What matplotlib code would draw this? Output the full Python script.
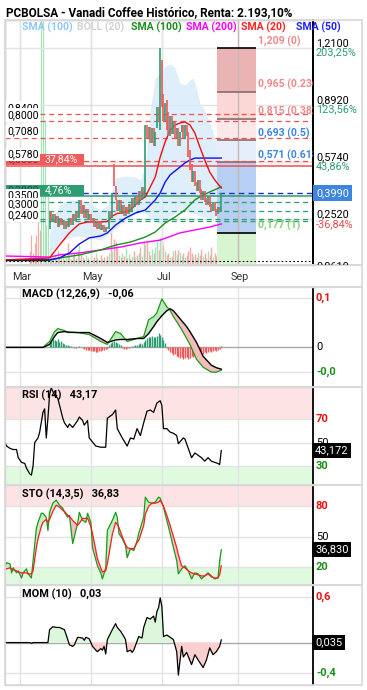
import numpy as np
import matplotlib
matplotlib.use("Agg")
import matplotlib.pyplot as plt
from matplotlib.patches import Rectangle
from matplotlib.transforms import Bbox, TransformedBbox, blended_transform_factory as blend

plt.rcParams['font.family'] = ['Roboto', 'DejaVu Sans']

# ---------------- data ----------------
title = "PCBOLSA - Vanadi Coffee Histórico, Renta: 2.193,10%"
months = ['Mar', 'May', 'Jul', 'Sep']
month_bar = [9, 52, 95, 141]

candle_start = 27
c_open = [0.20, 0.30, 0.24, 0.28, 0.23, 0.27, 0.21, 0.26, 0.22, 0.25, 0.20, 0.24, 0.21,
          0.26, 0.22, 0.28, 0.24, 0.30, 0.26,
          0.36, 0.28, 0.33, 0.26, 0.31, 0.25,
          0.28, 0.24, 0.26, 0.21, 0.24, 0.20, 0.23, 0.19, 0.22, 0.18, 0.21,
          0.20, 0.30, 0.26, 0.56, 0.44, 0.36,
          0.30, 0.36, 0.28, 0.33, 0.27, 0.32, 0.28,
          0.34, 0.30, 0.37, 0.32, 0.38, 0.33, 0.41, 0.36, 0.43,
          0.38, 0.78,
          0.70, 0.77, 0.68, 0.76, 0.66,
          0.76, 0.88, 0.75, 1.14, 0.95, 0.80, 0.92, 0.85, 0.72, 0.83, 0.73, 0.80, 0.70, 0.76,
          0.66, 0.74, 0.78, 0.70, 0.78,
          0.74, 0.64, 0.56, 0.46, 0.52, 0.46, 0.41, 0.47, 0.42, 0.36, 0.41, 0.37, 0.33, 0.38,
          0.34, 0.30, 0.35, 0.31, 0.28, 0.32, 0.29]
c_close = [0.30, 0.24, 0.28, 0.23, 0.27, 0.21, 0.26, 0.22, 0.25, 0.20, 0.24, 0.21, 0.26,
           0.22, 0.28, 0.24, 0.30, 0.26, 0.36,
           0.28, 0.33, 0.26, 0.31, 0.25, 0.28,
           0.24, 0.26, 0.21, 0.24, 0.20, 0.23, 0.19, 0.22, 0.18, 0.21, 0.20,
           0.30, 0.26, 0.40, 0.44, 0.36, 0.30,
           0.36, 0.28, 0.33, 0.27, 0.32, 0.28, 0.34,
           0.30, 0.37, 0.32, 0.38, 0.33, 0.41, 0.36, 0.43, 0.38,
           0.78, 0.70,
           0.77, 0.68, 0.76, 0.66, 0.74,
           0.88, 0.80, 1.21, 0.88, 0.80, 0.90, 0.75, 0.72, 0.83, 0.73, 0.80, 0.70, 0.76, 0.66,
           0.74, 0.78, 0.70, 0.78, 0.72,
           0.60, 0.53, 0.46, 0.52, 0.44, 0.41, 0.47, 0.40, 0.36, 0.41, 0.35, 0.33, 0.38, 0.32,
           0.30, 0.35, 0.30, 0.27, 0.32, 0.29, 0.399]
early_price = 0.025

vol_early_start = 15
vol_early = [14, 30, 12, 22, 30, 60, 35, 260, 260, 145, 40, 78]
vol_early_up = [0, 0, 0, 0, 0, 0, 0, 1, 1, 1, 1, 1]
vol = [12, 18, 8, 10, 6, 14, 9, 7, 12, 5, 8, 22, 10, 6,
       9, 12, 7, 15, 20, 11, 8, 6, 10, 7, 5, 9, 6, 8, 12,
       7, 5, 10, 6, 8, 4, 9, 12, 33, 14, 26, 23, 18, 10, 8,
       12, 9, 17, 7, 11, 6, 9, 14, 8, 10, 12, 18, 9, 23, 20,
       23, 14, 10, 16, 12, 18, 25, 15, 28, 25, 20, 14, 10, 12, 8,
       9, 14, 15, 11, 15, 13, 9, 12, 8, 10, 14, 18, 12, 9, 11,
       8, 13, 10, 16, 9, 12, 7, 14, 10, 18, 8, 12, 9, 15, 11, 26]

sma20_x = [0, 27, 33, 39, 45, 50, 58, 62, 65, 68, 71, 76, 79, 82, 85, 88, 91, 94, 97, 100,
           103, 106, 109, 112, 115, 118, 121, 124, 127, 131]
sma20_y = [0.025, 0.036, 0.108, 0.176, 0.226, 0.237, 0.237, 0.240, 0.270, 0.285, 0.287, 0.304,
           0.332, 0.360, 0.377, 0.433, 0.488, 0.600, 0.684, 0.751, 0.779, 0.790, 0.796, 0.779,
           0.734, 0.656, 0.583, 0.516, 0.472, 0.427]
sma50_x = [0, 27, 33, 39, 45, 51, 58, 62, 67, 73, 79, 85, 88, 91, 94, 97, 100, 103, 106, 109,
           112, 115, 118, 131]
sma50_y = [0.025, 0.025, 0.036, 0.064, 0.114, 0.148, 0.159, 0.176, 0.220, 0.259, 0.287, 0.304,
           0.332, 0.360, 0.399, 0.460, 0.500, 0.522, 0.544, 0.567, 0.583, 0.594, 0.594, 0.594]
sma100_x = [0, 27, 33, 45, 58, 67, 76, 85, 91, 97, 103, 109, 115, 118, 124, 131]
sma100_y = [0.025, 0.025, 0.036, 0.053, 0.081, 0.108, 0.125, 0.153, 0.181, 0.231, 0.265, 0.304,
            0.360, 0.377, 0.405, 0.433]
sma200_x = [0, 27, 33, 45, 58, 70, 82, 94, 106, 118, 124, 131]
sma200_y = [0.047, 0.041, 0.053, 0.064, 0.081, 0.097, 0.120, 0.136, 0.176, 0.198, 0.209, 0.226]

boll_x = [27, 30, 33, 39, 45, 51, 58, 62, 67, 73, 79, 82, 85, 88, 91, 94, 97, 100, 103, 106,
          109, 112, 114, 116, 118, 121, 124, 127, 131]
boll_up = [0.164, 0.276, 0.332, 0.360, 0.360, 0.343, 0.304, 0.332, 0.483, 0.494, 0.488, 0.472,
           0.555, 0.863, 1.041, 1.069, 1.108, 1.120, 1.097, 1.013, 1.002, 1.030, 1.041, 0.985,
           0.902, 0.863, 0.790, 0.712, 0.611]
boll_lo = [0.036, 0.092, 0.125, 0.148, 0.159, 0.148, 0.136, 0.159, 0.203, 0.248, 0.282, 0.293,
           0.285, 0.259, 0.240, 0.226, 0.237, 0.270, 0.285, 0.304, 0.300, 0.293, 0.285, 0.278,
           0.270, 0.265, 0.259, 0.265, 0.276]

red_dash = [0.84, 0.80, 0.708, 0.578]
green_dash = [0.35, 0.30, 0.252, 0.24]
red_solid = 0.55
green_solid = 0.38
last_price = 0.399
low_dotted = 0.02

fib_levels = [1.209, 0.965, 0.815, 0.693, 0.571, 0.177]
fib_ratios = ['0', '0.236', '0.382', '0.5', '0.618', '1']
fib_x0, fib_x1 = 128.4, 152.0

right_vals = [(1.21, '1,2100', '203,25%', '#2e9d72'),
              (0.892, '0,8920', '123,56%', '#2e9d72'),
              (0.574, '0,5740', '43,86%', '#2e9d72'),
              (0.252, '0,2520', '-36,84%', '#f04848')]

macd_x = [0, 23, 27, 30, 32, 36, 38, 44, 51, 58, 62, 67, 70, 74, 80, 84, 87, 90, 92, 95, 98,
          100, 102, 104, 107, 110, 112, 116, 120, 125, 128, 131]
macd_sig = [0, 0, 0.006, 0.022, 0.030, 0.032, 0.031, 0.030, 0.030, 0.018, 0.010, 0.015, 0.016,
            0.016, 0.018, 0.018, 0.028, 0.042, 0.052, 0.064, 0.074, 0.078, 0.074, 0.066, 0.054,
            0.042, 0.032, 0.010, -0.018, -0.036, -0.041, -0.044]
macd_line = [0, 0, 0.012, 0.032, 0.038, 0.034, 0.030, 0.030, 0.026, 0.012, 0.006, 0.032, 0.028,
             0.012, 0.018, 0.022, 0.056, 0.062, 0.070, 0.098, 0.082, 0.075, 0.062, 0.052, 0.036,
             0.018, 0.006, -0.024, -0.040, -0.050, -0.050, -0.046]
macd_hist = [0.006, 0.012, 0.016, 0.014, 0.012, 0.016, 0.010, 0.012, 0.008, 0.006, 0.004, 0.004,
             0.002, 0.002, 0.0, -0.002, -0.002, 0.0, 0.002, 0.0, -0.002, -0.004, -0.006, -0.006,
             -0.006, -0.008, -0.008, -0.008, -0.010, -0.010, -0.008, -0.008, -0.006, -0.006, -0.004, -0.004,
             0.004, 0.008, 0.010, 0.012, 0.010, 0.008, 0.006, 0.004, -0.002, -0.004, -0.004, -0.002,
             -0.002, 0.0, 0.002, 0.002, 0.004, 0.004, 0.006, 0.008, 0.006, 0.010, 0.014, 0.018,
             0.020, 0.022, 0.024, 0.022, 0.020, 0.024, 0.030, 0.026, 0.020, 0.014, 0.008, -0.002,
             -0.006, -0.010, -0.012, -0.016, -0.014, -0.018, -0.020, -0.022, -0.020, -0.024, -0.022, -0.020,
             -0.024, -0.022, -0.018, -0.020, -0.016, -0.018, -0.014, -0.016, -0.012, -0.014, -0.010, -0.012,
             -0.010, -0.008, -0.010, -0.008, -0.006, -0.008, -0.006, -0.004, 0.002]

rsi_x = [0, 1, 3, 5, 7, 8, 10, 12, 13, 15, 16, 17, 18, 20, 21, 23, 24, 25, 26, 27, 28, 30, 32,
         35, 36, 38, 39, 41, 44, 45, 47, 48, 50, 51, 55, 58, 61, 62, 65, 67, 68, 71, 74, 76, 78,
         80, 82, 84, 86, 88, 90, 92, 94, 95, 96, 98, 100, 102, 104, 105, 108, 109, 111, 113,
         115, 117, 119, 121, 123, 125, 127, 129, 130, 131]
rsi_y = [50, 47, 45, 44, 44, 37, 33, 32, 28, 23, 22, 30, 50, 54, 59, 76, 79, 54, 71, 91, 97, 91,
         88, 71, 67, 63, 66, 63, 69, 72, 69, 65, 69, 54, 47, 46, 46, 71, 74, 78, 62, 54, 47, 54,
         53, 62, 56, 67, 77, 78, 76, 84, 86, 82, 62, 62, 59, 58, 56, 49, 54, 53, 45, 37, 41, 39,
         37, 34, 37, 34, 33, 32, 31, 43.17]

sto_x = [0, 1, 3, 4, 5, 7, 8, 10, 11, 13, 14, 16, 17, 19, 20, 22, 23, 25, 26, 27, 29, 31, 33,
         35, 36, 38, 39, 41, 44, 45, 47, 49, 50, 52, 53, 56, 58, 59, 61, 62, 65, 67, 68, 69, 71,
         73, 74, 76, 78, 80, 81, 84, 85, 87, 89, 91, 93, 94, 96, 98, 100, 102, 104, 105, 107,
         109, 111, 113, 115, 117, 119, 121, 123, 125, 127, 129, 130, 131]
sto_k = [21, 24, 23, 14, 19, 14, 16, 9, 14, 18, 13, 9, 26, 58, 64, 73, 73, 69, 56, 74, 83, 86,
         81, 78, 74, 69, 71, 43, 63, 74, 66, 64, 73, 64, 39, 21, 14, 8, 19, 56, 66, 74, 69, 53,
         48, 41, 29, 38, 36, 46, 53, 69, 89, 84, 83, 84, 89, 88, 79, 66, 53, 39, 26, 13, 18, 21,
         16, 8, 14, 13, 8, 11, 14, 11, 8, 9, 26, 36.83]
sto_d = [18, 18, 19, 18, 17, 16, 15, 14, 14, 14, 13, 13, 16, 39, 48, 60, 64, 67, 64, 67, 75, 81,
         79, 76, 75, 71, 70, 66, 61, 63, 68, 68, 68, 60, 53, 28, 19, 15, 16, 23, 52, 64, 62, 59,
         50, 42, 39, 38, 38, 44, 46, 61, 72, 80, 83, 83, 84, 86, 80, 71, 61, 50, 39, 32, 21, 19,
         16, 14, 13, 12, 11, 11, 13, 10, 9, 9, 12, 21]

mom_x = [0, 15, 16, 17, 21, 26, 27, 29, 31, 33, 36, 38, 39, 41, 42, 44, 47, 48, 49, 51, 53, 55,
         56, 58, 59, 60, 61, 62, 65, 67, 68, 70, 72, 73, 74, 76, 77, 78, 80, 81, 83, 84, 86, 88,
         90, 91, 92, 93, 94, 95, 96, 98, 100, 102, 104, 105, 107, 108, 110, 113, 115, 117, 120,
         122, 124, 126, 128, 130, 131]
mom_y = [0, 0, -0.01, 0, 0, 0, 0.17, 0.21, 0.20, 0.20, 0.17, 0.04, -0.03, -0.05, -0.03, 0.07,
         0.06, 0.03, 0.07, 0.05, -0.05, -0.10, -0.12, -0.08, -0.10, -0.05, -0.15, 0.04, 0.17,
         0.25, 0.20, 0.15, 0.08, 0.04, -0.12, -0.10, -0.13, -0.10, 0.02, 0.08, 0.06, 0.20, 0.33,
         0.31, 0.35, 0.27, 0.41, 0.46, 0.59, 0.48, 0.08, 0.10, 0.07, 0.04, -0.12, -0.43, -0.05,
         -0.19, -0.13, -0.29, -0.16, -0.23, -0.33, -0.23, -0.07, -0.16, -0.12, -0.05, 0.035]

# ---------------- layout ----------------
W, H = 367, 690
fig = plt.figure(figsize=(W / 100, H / 100), dpi=100)
fig.patch.set_facecolor('white')
XL, XR = 5, 313
XMAX = 186.55
GRID = '#e3e3e3'
GREEN = '#2e9d72'
RED = '#f25656'
VUP, VDN = '#a6e5bb', '#f6abab'


def fr(x0, y0, x1, y1):
    return [x0 / W, 1 - y1 / H, (x1 - x0) / W, (y1 - y0) / H]


def xf(px):
    return (px - XL) / (XR - XL)


def style(ax):
    ax.set_xlim(0, XMAX)
    ax.set_xticks([])
    ax.set_yticks([])
    for s in ['left', 'top', 'bottom']:
        ax.spines[s].set_color('#d5d5d5')
        ax.spines[s].set_linewidth(1.0)
    ax.spines['right'].set_color('black')
    ax.spines['right'].set_linewidth(1.3)
    for m in month_bar:
        ax.axvline(m, color=GRID, lw=1, zorder=0.5)


# panel frames (full width incl. right label area)
for (y0, y1) in [(20, 265), (265, 287), (287, 387), (387, 485), (485, 585), (585, 685)]:
    fig.patches.append(Rectangle((5 / W, 1 - y1 / H), 357 / W, (y1 - y0) / H,
                                 transform=fig.transFigure, fill=False,
                                 edgecolor='#d8d8d8', lw=1.2, zorder=0))

# ---------------- main price panel ----------------
vax = fig.add_axes(fr(XL, 20, XR, 265))
vax.set_ylim(0, 245)
style(vax)
vx_e = np.arange(vol_early_start, vol_early_start + len(vol_early))
vax.vlines(vx_e, 0, vol_early, colors=[VUP if u else VDN for u in vol_early_up], lw=0.9)
cx = np.arange(candle_start, candle_start + len(c_close))
up = np.array(c_close) >= np.array(c_open)
vax.vlines(cx, 0, vol, colors=np.where(up, VUP, VDN), lw=1.0)

ax = fig.add_axes(fr(XL, 20, XR, 265))
ax.patch.set_alpha(0)
style(ax)
ax.set_ylim(-0.0033, 1.3654)
for v in [1.21, 0.892, 0.574, 0.252]:
    ax.axhline(v, color=GRID, lw=1, zorder=0.5)

# Bollinger band
ax.fill_between(boll_x, boll_lo, boll_up, color='#d8eafb', alpha=0.8, lw=0, zorder=1)

# Fibonacci box
fib_cols = ['#eab4b4', '#fdd6d6', '#fde9e9', '#e5eef9', '#b6cff2']
for k in range(5):
    ax.add_patch(Rectangle((fib_x0, fib_levels[k + 1]), fib_x1 - fib_x0,
                           fib_levels[k] - fib_levels[k + 1], color=fib_cols[k], lw=0, zorder=1.2))
ax.add_patch(Rectangle((fib_x0, -0.01), fib_x1 - fib_x0, fib_levels[-1] + 0.01,
                       color='#d6f5d0', lw=0, zorder=1.2))
for k, lv in enumerate(fib_levels):
    col = 'black' if k in (0, 5) else '#8a6a6a'
    ax.hlines(lv, fib_x0, fib_x1, colors=col, lw=1.2, zorder=1.4)
ax.axvline(month_bar[3], color='#c9b8b8', lw=1, zorder=1.3)
fib_colors = ['#f08a8a', '#f08a8a', '#f08a8a', '#3f86e0', '#3f86e0', '#7ad46f']
for k, lv in enumerate(fib_levels):
    lab = f"{lv:.3f}".replace('.', ',') + f" ({fib_ratios[k]})"
    ax.annotate(lab, xy=(fib_x1 + 1.2, lv), xytext=(0, 5), textcoords='offset points',
                fontsize=7.6, fontweight='bold', color=fib_colors[k], va='center', ha='left',
                clip_on=True, annotation_clip=False, zorder=3)

# horizontal levels
for v in red_dash:
    ax.axhline(v, color='#f05050', lw=0.9, ls=(0, (4, 3)), zorder=2)
for v in green_dash:
    ax.axhline(v, color=GREEN, lw=0.9, ls=(0, (4, 3)), zorder=2)
ax.axhline(red_solid, color='#f05050', lw=1.1, zorder=2)
ax.axhline(green_solid, color=GREEN, lw=1.1, zorder=2)
ax.axhline(last_price, color='#2030d0', lw=1.0, ls=(0, (4, 3)), zorder=2)
ax.axhline(low_dotted, color='black', lw=0.8, ls=(0, (1.5, 2)), zorder=2)

# moving averages
ax.plot(sma200_x, sma200_y, color='#ff00ff', lw=1.0, zorder=3)
ax.plot(sma100_x, sma100_y, color='#1a8f1a', lw=1.0, zorder=3)
ax.plot(sma50_x, sma50_y, color='#1010ee', lw=1.0, zorder=3)
ax.plot(sma20_x, sma20_y, color='#ee1111', lw=1.0, zorder=3)
ax.plot([0, candle_start - 1], [early_price, early_price], color='#222222', lw=1.0, zorder=3)

# candles
ax.vlines(cx, np.minimum(c_open, c_close), np.maximum(c_open, c_close),
          colors=np.where(up, GREEN, RED), lw=1.2, zorder=4)

# left labels
lab_tr = blend(ax.transAxes, ax.transData)
for v in red_dash + green_dash[:2] + [green_dash[3]]:
    ax.annotate(f"{v:.4f}".replace('.', ','), xy=(xf(7), v), xycoords=lab_tr,
                xytext=(0, 4.5), textcoords='offset points', fontsize=7.6, va='center',
                ha='left', color='black', zorder=6,
                bbox=dict(boxstyle='square,pad=0.15', fc='white', ec='none'))
# red / green boxes
for v, val, pct, col, dark in [(red_solid, '0,5500', '37,84%', '#f25b5b', '#9a2a2a'),
                               (green_solid, '0,3800', '4,76%', '#2e9d72', '#1d4d3a')]:
    ax.add_patch(Rectangle((xf(5), v + 0.003), xf(84) - xf(5), 0.062, transform=lab_tr,
                           color=col, lw=0, zorder=5, clip_on=False))
    ax.annotate(val, xy=(xf(7), v), xycoords=lab_tr, xytext=(0, 4.5),
                textcoords='offset points', fontsize=7.6, va='center', ha='left',
                color=dark, zorder=5.5)
    ax.annotate(pct, xy=(xf(45), v), xycoords=lab_tr, xytext=(0, 4.5),
                textcoords='offset points', fontsize=7.6, va='center', ha='left',
                color='white', zorder=5.5)

# right labels
for v, val, pct, pc in right_vals:
    ax.annotate(val, xy=(xf(316), v), xycoords=lab_tr, xytext=(0, 3.5),
                textcoords='offset points', fontsize=7.8, va='center', ha='left',
                color='black', annotation_clip=False)
    ax.annotate(pct, xy=(xf(316), v), xycoords=lab_tr, xytext=(0, -3.5),
                textcoords='offset points', fontsize=7.8, va='center', ha='left',
                color=pc, annotation_clip=False)
ax.annotate('0,3990', xy=(xf(316), last_price), xycoords=lab_tr, fontsize=7.8,
            va='center', ha='left', color='white', annotation_clip=False,
            bbox=dict(boxstyle='square,pad=0.25', fc='#3d86e0', ec='none'))
t = fig.text(316 / W, 1 - 266.5 / H, '0,0610', fontsize=7.8, va='center', ha='left')
t.set_clip_box(TransformedBbox(Bbox([[313 / W, 1 - 265 / H], [362 / W, 1 - 20 / H]]),
                               fig.transFigure))
t.set_clip_on(True)

# title + legend
fig.text(6 / W, 1 - 12.5 / H, title, fontsize=8.5, fontweight='bold', va='center', ha='left')
for px, txt, col in [(22, 'SMA (100)', '#90c8f5'), (77, 'BOLL (20)', '#d2d2d2'),
                     (131, 'SMA (100)', '#1a8f1a'), (186, 'SMA (200)', '#ff00ff'),
                     (241, 'SMA (20)', '#ff2020'), (296, 'SMA (50)', '#2020ff')]:
    fig.text(px / W, 1 - 27.5 / H, txt, fontsize=7.6, fontweight='bold', color=col,
             va='center', ha='left', zorder=1)

# month labels
for m, lab in zip(month_bar, months):
    fig.text((XL + (m / XMAX) * (XR - XL) + 2) / W, 1 - 277 / H, lab, fontsize=7.8,
             color='#333333', va='center', ha='center')

# ---------------- MACD ----------------
a1 = fig.add_axes(fr(XL, 287, XR, 387))
style(a1)
a1.set_ylim(-0.080, 0.122)
a1.axhline(0.1, color=GRID, lw=1, zorder=0.5)
a1.axhline(-0.05, color=GRID, lw=1, zorder=0.5)
a1.axhline(0, color='#aaaaaa', lw=1, zorder=0.6)
hx = np.arange(candle_start, candle_start + len(macd_hist))
hv = np.array(macd_hist)
a1.vlines(hx, 0, hv, colors=np.where(hv >= 0, GREEN, RED), lw=1.0, zorder=1)
ml, ms = np.array(macd_line), np.array(macd_sig)
a1.fill_between(macd_x, ml, ms, where=ml >= ms, interpolate=True, color='#bdeabd', lw=0, zorder=2)
a1.fill_between(macd_x, ml, ms, where=ml < ms, interpolate=True, color='#f5bcbc', lw=0, zorder=2)
a1.plot(macd_x, ml, color='#1a9a1a', lw=0.9, zorder=3)
a1.plot(macd_x, ms, color='black', lw=1.0, zorder=3)
a1.text(xf(22), 0.98, 'MACD (12,26,9)   -0,06', transform=a1.transAxes, fontsize=7.8,
        fontweight='bold', va='top', ha='left')
tr1 = blend(a1.transAxes, a1.transData)
a1.text(xf(316), 0.1, '0,1', transform=tr1, color='#ee1111', fontsize=8, fontweight='bold', va='center')
a1.text(xf(316), 0.0, '0', transform=tr1, color='black', fontsize=8, va='center')
a1.text(xf(316), -0.05, '-0,0', transform=tr1, color='#1a8f1a', fontsize=8, fontweight='bold', va='center')

# ---------------- RSI ----------------
a2 = fig.add_axes(fr(XL, 387, XR, 485))
style(a2)
a2.set_ylim(13.5, 97.8)
a2.axhspan(70, 100, color='#fde3e3', lw=0, zorder=0.2)
a2.axhspan(0, 30, color='#e0fae0', lw=0, zorder=0.2)
for v in (70, 50, 30):
    a2.axhline(v, color=GRID, lw=1, zorder=0.5)
a2.plot(rsi_x, rsi_y, color='black', lw=0.9, zorder=3)
a2.text(xf(22), 0.97, 'RSI (14)   43,17', transform=a2.transAxes, fontsize=7.8,
        fontweight='bold', va='top', ha='left', zorder=2)
tr2 = blend(a2.transAxes, a2.transData)
a2.text(xf(316), 70, '70', transform=tr2, color='#ee1111', fontsize=8, fontweight='bold', va='center')
a2.text(xf(316), 50, '50', transform=tr2, color='black', fontsize=8, va='center')
a2.text(xf(316), 30, '30', transform=tr2, color='#1a8f1a', fontsize=8, fontweight='bold', va='center')
a2.text(xf(315), 43.17, '43,172', transform=tr2, color='white', fontsize=8, va='center',
        bbox=dict(boxstyle='square,pad=0.25', fc='black', ec='none'))

# ---------------- STO ----------------
a3 = fig.add_axes(fr(XL, 485, XR, 585))
style(a3)
a3.set_ylim(2, 101)
a3.axhspan(80, 110, color='#fde3e3', lw=0, zorder=0.2)
a3.axhspan(0, 20, color='#e0fae0', lw=0, zorder=0.2)
for v in (80, 50, 20):
    a3.axhline(v, color=GRID, lw=1, zorder=0.5)
k, d = np.array(sto_k), np.array(sto_d)
a3.fill_between(sto_x, k, d, where=k >= d, interpolate=True, color='#c4efc4', lw=0, zorder=2)
a3.fill_between(sto_x, k, d, where=k < d, interpolate=True, color='#f3c0c0', lw=0, zorder=2)
a3.plot(sto_x, k, color='#1a9a1a', lw=0.9, zorder=3)
a3.plot(sto_x, d, color='#ff1a1a', lw=0.9, zorder=3)
a3.text(xf(22), 0.96, 'STO (14,3,5)   36,83', transform=a3.transAxes, fontsize=7.8,
        fontweight='bold', va='top', ha='left', zorder=4)
tr3 = blend(a3.transAxes, a3.transData)
a3.text(xf(316), 80, '80', transform=tr3, color='#ee1111', fontsize=8, fontweight='bold', va='center')
a3.text(xf(316), 50, '50', transform=tr3, color='black', fontsize=8, va='center')
a3.text(xf(316), 20, '20', transform=tr3, color='#1a8f1a', fontsize=8, fontweight='bold', va='center')
a3.text(xf(315), 37, '36,830', transform=tr3, color='white', fontsize=8, va='center',
        bbox=dict(boxstyle='square,pad=0.25', fc='black', ec='none'))

# ---------------- MOM ----------------
a4 = fig.add_axes(fr(XL, 585, XR, 685))
style(a4)
a4.set_ylim(-0.56, 0.76)
a4.axhline(0.6, color=GRID, lw=1, zorder=0.5)
a4.axhline(-0.4, color=GRID, lw=1, zorder=0.5)
a4.axhline(0, color='#aaaaaa', lw=1, zorder=0.6)
my = np.array(mom_y)
a4.fill_between(mom_x, my, 0, where=my >= 0, interpolate=True, color='#dcf8dc', lw=0, zorder=2)
a4.fill_between(mom_x, my, 0, where=my < 0, interpolate=True, color='#fbcfcf', lw=0, zorder=2)
a4.plot(mom_x, my, color='black', lw=0.9, zorder=3)
a4.text(xf(22), 0.96, 'MOM (10)   0,03', transform=a4.transAxes, fontsize=7.8,
        fontweight='bold', va='top', ha='left', zorder=4)
tr4 = blend(a4.transAxes, a4.transData)
a4.text(xf(316), 0.6, '0,6', transform=tr4, color='#ee1111', fontsize=8, fontweight='bold', va='center')
a4.text(xf(316), -0.4, '-0,4', transform=tr4, color='#1a8f1a', fontsize=8, fontweight='bold', va='center')
a4.text(xf(315), 0.0, '0,035', transform=tr4, color='white', fontsize=8, va='center',
        bbox=dict(boxstyle='square,pad=0.25', fc='black', ec='none'))

fig.savefig('out.png', dpi=100, facecolor='white')
